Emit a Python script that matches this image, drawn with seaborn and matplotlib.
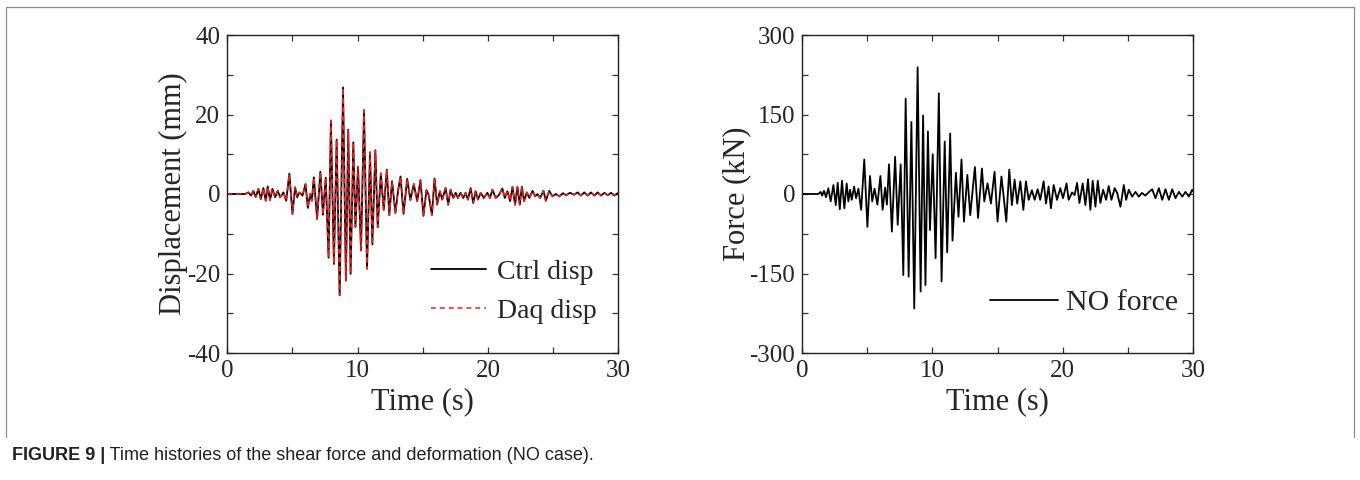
import matplotlib
matplotlib.use("Agg")
import matplotlib.pyplot as plt
from matplotlib.ticker import MultipleLocator
from matplotlib.lines import Line2D
from matplotlib import font_manager
import seaborn as sns
import pandas as pd

# ---------------- data (extrema) ----------------
disp_time = [0, 1.36, 1.5, 1.62, 1.82, 2.0, 2.18, 2.39, 2.57, 2.77, 2.95, 3.1, 3.28, 3.46, 3.67,
             3.87, 4.05, 4.31, 4.52, 4.76, 5.0, 5.2, 5.36, 5.53, 5.77, 6.0, 6.18, 6.36, 6.49, 6.64,
             6.89, 7.14, 7.34, 7.55, 7.77, 7.95, 8.18, 8.39, 8.62, 8.88, 9.1, 9.28, 9.46, 9.67,
             9.83, 10.03, 10.26, 10.49, 10.72, 10.95, 11.13, 11.36, 11.54, 11.78, 12.0, 12.24,
             12.43, 12.64, 12.9, 13.1, 13.29, 13.52, 13.8, 14.05, 14.31, 14.57, 14.82, 15.05,
             15.28, 15.45, 15.7, 15.9, 16.1, 16.31, 16.49, 16.75, 16.95, 17.13, 17.34, 17.52,
             17.69, 17.9, 18.1, 18.28, 18.46, 18.67, 18.87, 19.05, 19.23, 19.44, 19.69, 19.95,
             20.16, 20.34, 20.59, 20.85, 21.1, 21.29, 21.49, 21.7, 21.88, 22.08, 22.26, 22.44,
             22.6, 22.77, 22.98, 23.18, 23.42, 23.62, 23.8, 24.0, 24.26, 24.44, 24.7, 24.95,
             25.21, 25.47, 25.75, 26.0, 26.3, 26.6, 26.88, 27.13, 27.39, 27.65, 27.9, 28.16,
             28.42, 28.67, 28.93, 29.19, 29.44, 29.7, 29.95, 30.0]
ctrl_disp = [0, 0, 0.2, 0.4, -0.4, 0.8, -0.8, 1.3, -1.3, 1.5, -1.7, 1.9, -1.5, 1.3, -0.8,
             0.8, -0.8, 0.4, -1.7, 5.1, -5.0, 1.7, -0.8, 0.4, -0.4, 2.5, -3.5, 0.0, -1.7, 4.2,
             -6.3, 5.6, -5.2, 4.1, -16.0, 18.5, -17.6, 13.7, -25.5, 26.8, -21.8, 16.2, -20.1, 13.0,
             -8.3, 6.9, -14.2, 21.1, -18.8, 10.5, -12.7, 11.0, -8.4, 5.2, -4.0, 6.1,
             -5.3, 3.2, -4.8, 0.8, 4.4, -5.0, 3.8, -1.5, 2.5, -1.8, 3.5, -5.5,
             1.0, -0.3, -5.3, 3.9, -2.7, 0.7, -1.4, 1.5, -2.7, 1.1, -1.0, 0.3,
             -1.0, 0.3, -1.0, 0.3, -1.4, 1.5, -2.3, 0.7, -1.4, 0.3, -1.0, 0.3,
             -1.0, 1.1, -1.0, -0.2, 1.4, -1.0, 0.7, -1.8, 1.8, -2.7, 1.8, -2.7,
             1.8, -1.8, 0.4, -1.0, 0.8, -0.6, 0.0, -1.0, 0.8, -1.7, 0.8, -0.6,
             0.0, -0.6, 0.2, -0.3, 0.3, -0.2, 0.4, -0.4, 0.4, -0.4, 0.4, -0.4,
             0.4, -0.4, 0.3, -0.3, 0.3, -0.4, 0.2, 0.0]
daq_disp = list(ctrl_disp)

force_time = [0, 1.23, 1.41, 1.52, 1.67, 1.82, 2.0, 2.18, 2.39, 2.57, 2.72, 2.88, 3.05, 3.23,
              3.41, 3.54, 3.67, 3.8, 3.98, 4.13, 4.31, 4.52, 4.76, 5.0, 5.2, 5.37, 5.55, 5.77,
              6.0, 6.17, 6.36, 6.5, 6.66, 6.88, 7.13, 7.33, 7.56, 7.76, 7.94, 8.17, 8.38, 8.6,
              8.86, 9.09, 9.28, 9.46, 9.65, 9.81, 10.02, 10.24, 10.49, 10.7, 10.94, 11.13, 11.36,
              11.54, 11.8, 12.0, 12.23, 12.42, 12.68, 12.9, 13.26, 13.5, 13.8, 13.98, 14.23,
              14.49, 14.77, 15.0, 15.3, 15.47, 15.67, 15.9, 16.1, 16.31, 16.51, 16.75, 16.98,
              17.18, 17.39, 17.64, 17.85, 18.08, 18.28, 18.54, 18.72, 18.92, 19.1, 19.31, 19.57,
              19.82, 20.03, 20.3, 20.46, 20.72, 20.92, 21.11, 21.29, 21.54, 21.75, 21.95, 22.13,
              22.31, 22.52, 22.7, 22.9, 23.11, 23.34, 23.54, 23.75, 24.0, 24.19, 24.44, 24.7,
              24.88, 25.08, 25.34, 25.6, 25.85, 26.1, 26.35, 26.6, 26.88, 27.13, 27.39, 27.65,
              27.9, 28.16, 28.42, 28.67, 28.93, 29.19, 29.44, 29.7, 29.95, 30.0]
no_force = [0, 0, 4, -3, 6, -6, 11, -14, 17, -21, 21, -29, 25, -27,
            20, -14, 8, -11, 14, -8, 10, -30, 65, -62, 34, -14, 10, -20,
            34, -30, 12, -20, 56, -71, 70, -58, 56, -153, 180, -156, 136, -216,
            239, -184, 148, -172, 118, -68, 75, -121, 190, -165, 99, -110, 114,
            -88, 40, -43, 65, -52, 36, -40, 51, -45, 48, -14, 20,
            -18, 42, -52, 33, -5, -52, 46, -21, 27, -18, 24, -30,
            24, -11, 7, -11, 9, -11, 24, -18, 14, -27, 17, -11,
            11, -8, 20, -11, 3, -2, 21, -17, 20, -21, 28, -30,
            25, -24, 25, -17, 8, -11, 15, -11, 11, 2, -24, 17,
            -11, 8, -5, 4, -5, 2, -3, 3, 9, -8, 11, -11,
            9, -11, 9, -8, 4, -5, 4, -5, 8, 5]

x_ticks = [0, 10, 20, 30]
disp_ticks = [-40, -20, 0, 20, 40]
force_ticks = [-300, -150, 0, 150, 300]
series_labels = ["Ctrl disp", "Daq disp", "NO force"]
caption_bold = "FIGURE 9 |"
caption_rest = " Time histories of the shear force and deformation (NO case)."

df_disp = pd.DataFrame({"t": disp_time, "ctrl": ctrl_disp, "daq": daq_disp})
df_force = pd.DataFrame({"t": force_time, "f": no_force})

# ---------------- style ----------------
sns.set_style("ticks")
plt.rcParams["font.family"] = ["Liberation Serif", "DejaVu Serif"]
plt.rcParams["axes.unicode_minus"] = False

W, H = 1360, 480
fig = plt.figure(figsize=(W / 100, H / 100), dpi=100, facecolor="white")

ax_l = fig.add_axes([227.3 / W, 1 - 353 / H, 391 / W, 318 / H])
ax_r = fig.add_axes([802.3 / W, 1 - 353 / H, 390.5 / W, 318 / H])

sns.lineplot(data=df_disp, x="t", y="ctrl", ax=ax_l, color="black", lw=1.3,
             estimator=None, sort=False, label=series_labels[0])
sns.lineplot(data=df_disp, x="t", y="daq", ax=ax_l, color="#ff1a1a", lw=1.1,
             estimator=None, sort=False, label=series_labels[1])
ax_l.lines[1].set_dashes((3.2, 2.6))

sns.lineplot(data=df_force, x="t", y="f", ax=ax_r, color="black", lw=1.3,
             estimator=None, sort=False, label=series_labels[2])

for ax, yt, ylab, minor in [(ax_l, disp_ticks, "Displacement (mm)", 10),
                            (ax_r, force_ticks, "Force (kN)", 75)]:
    ax.set_xlim(0, 30)
    ax.set_ylim(yt[0], yt[-1])
    ax.set_xticks(x_ticks)
    ax.set_yticks(yt)
    ax.xaxis.set_minor_locator(MultipleLocator(5))
    ax.yaxis.set_minor_locator(MultipleLocator(minor))
    ax.tick_params(which="both", direction="in", top=True, right=True,
                   length=4.5, width=0.9, color="#333333", labelsize=18, pad=5)
    ax.set_xlabel("Time (s)", fontsize=22, labelpad=4)
    ax.set_ylabel(ylab, fontsize=22, labelpad=-1)
    for sp in ax.spines.values():
        sp.set_visible(True)
        sp.set_linewidth(1.0)
        sp.set_color("#222222")
    for ln in ax.lines:
        ln.set_solid_joinstyle("round")

ax_l.legend(loc="upper left", bbox_to_anchor=(0.52, 0.295), frameon=False,
            fontsize=20, handlelength=2.0, handletextpad=0.4,
            labelspacing=0.5, borderpad=0, borderaxespad=0)
ax_r.legend(loc="upper left", bbox_to_anchor=(0.48, 0.2), frameon=False,
            fontsize=21.5, handlelength=2.3, handletextpad=0.25,
            borderpad=0, borderaxespad=0)

# outer frame (left, top, right)
frame_kw = dict(color="#8c8c8c", lw=0.9, transform=fig.transFigure)
x0, x1 = 6 / W, 1354 / W
y0, y1 = 1 - 437 / H, 1 - 7 / H
fig.add_artist(Line2D([x0, x0], [y0, y1], **frame_kw))
fig.add_artist(Line2D([x0, x1], [y1, y1], **frame_kw))
fig.add_artist(Line2D([x1, x1], [y0, y1], **frame_kw))

# caption
avail = {f.name for f in font_manager.fontManager.ttflist}
if "Liberation Sans Narrow" in avail:
    cap_family, cap_size = ["Liberation Sans Narrow", "DejaVu Sans"], 15.5
else:
    cap_family, cap_size = ["Liberation Sans", "DejaVu Sans"], 13
cap_kw = dict(fontsize=cap_size, family=cap_family, va="baseline", color="#231f20")
t1 = fig.text(12 / W, 1 - 460 / H, caption_bold, fontweight="bold", **cap_kw)
fig.canvas.draw()
bb = t1.get_window_extent(renderer=fig.canvas.get_renderer())
fig.text(bb.x1 / W, 1 - 460 / H, caption_rest, **cap_kw)

fig.savefig("out.png", dpi=100, facecolor="white")
